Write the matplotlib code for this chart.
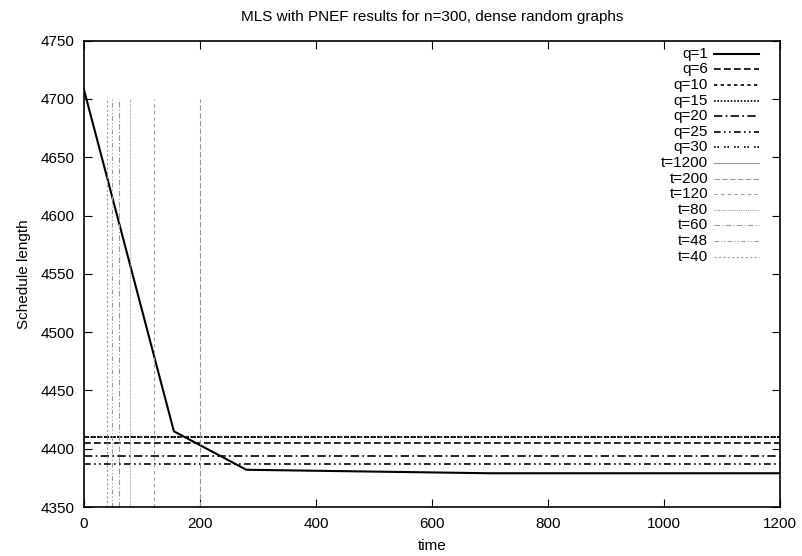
import matplotlib
matplotlib.use("Agg")
import matplotlib.pyplot as plt

plt.rcParams['font.family'] = ['Liberation Sans', 'DejaVu Sans']

# q=1 run (schedule length over time)
q1_t = [0, 155, 280, 700, 1200]
q1_len = [4708, 4415, 4382, 4379, 4379]

# final lengths of the other q runs (flat lines)
q_labels = ["q=6", "q=10", "q=15", "q=20", "q=25", "q=30"]
q_values = [4405, 4410, 4410, 4394, 4387, 4410]
q_styles = [(0, (4, 2)), (0, (2, 2)), (0, (1, 1)), (0, (5, 2, 1, 2)),
            (0, (4, 2, 1, 2, 1, 2)), (0, (1, 1, 1, 3))]

# time limit markers
t_labels = ["t=1200", "t=200", "t=120", "t=80", "t=60", "t=48", "t=40"]
t_values = [1200, 200, 120, 80, 60, 48, 40]
t_styles = ['-', (0, (5, 2)), (0, (3, 3)), (0, (1, 1)), (0, (5, 2, 1, 2)),
            (0, (4, 2, 1, 2, 1, 2)), (0, (2, 2))]
t_top = 4700

fig = plt.figure(figsize=(8.02, 5.56), dpi=100)
ax = fig.add_axes([0.1047, 0.088, 0.8679, 0.8388])

key = []  # (label, color, lw, style) for the key
ax.plot(q1_t, q1_len, color='black', lw=1.5)
key.append(("q=1", 'black', 1.5, '-'))
for lab, v, ls in zip(q_labels, q_values, q_styles):
    ax.plot([0, 1200], [v, v], color='black', lw=1.2, linestyle=ls)
    key.append((lab, 'black', 1.2, ls))
for lab, v, ls in zip(t_labels, t_values, t_styles):
    ax.plot([v, v], [4350, t_top], color='#999999', lw=0.8, linestyle=ls)
    key.append((lab, '#999999', 0.8, ls))

ax.set_xlim(0, 1200)
ax.set_ylim(4350, 4750)
ax.set_xticks(range(0, 1201, 200))
ax.set_yticks(range(4350, 4751, 50))
ax.tick_params(direction='in', length=6, top=True, right=True, labelsize=11, pad=7)
for s in ax.spines.values():
    s.set_linewidth(1.2)

ax.set_title("MLS with PNEF results for n=300, dense random graphs", fontsize=11, pad=14)
ax.set_xlabel("time", fontsize=11, labelpad=6)
ax.set_ylabel("Schedule length", fontsize=11, labelpad=7)

# gnuplot-style key: right-aligned labels with the sample to their right
y0, dy = 0.9721, 0.03348
for i, (lab, c, lw, ls) in enumerate(key):
    y = y0 - i * dy
    ax.text(0.8966, y, lab, transform=ax.transAxes, ha='right', va='center', fontsize=11)
    ax.plot([0.9052, 0.9698], [y, y], transform=ax.transAxes, color=c, lw=lw,
            linestyle=ls, clip_on=False)

fig.savefig("out.png", dpi=100)
